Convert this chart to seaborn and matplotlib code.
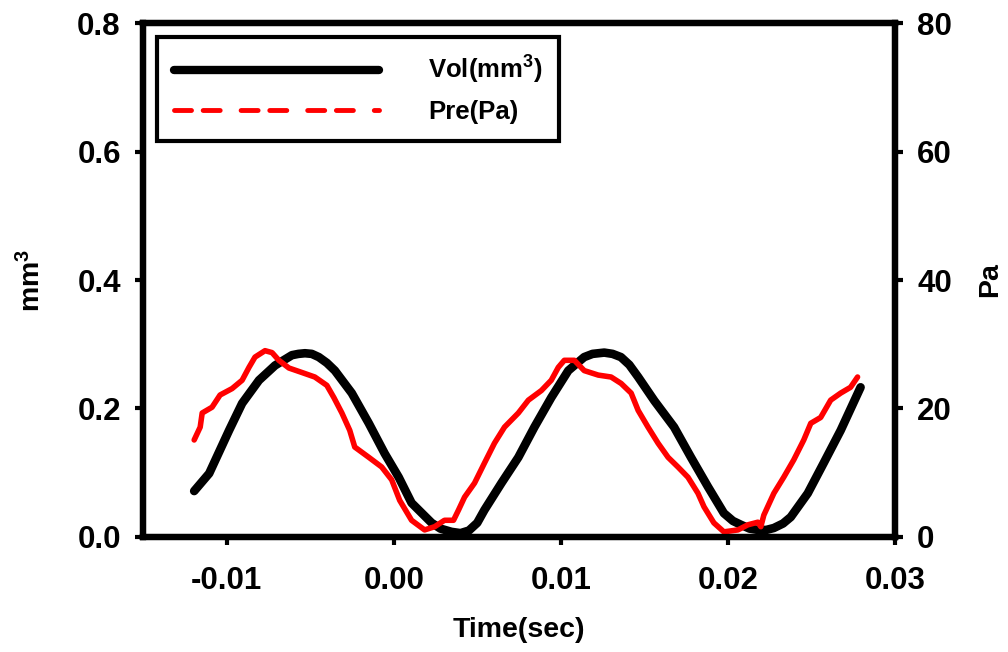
import matplotlib
matplotlib.use("Agg")
import matplotlib.pyplot as plt
from matplotlib.lines import Line2D
import pandas as pd
import seaborn as sns

# ---- data ----
time_vol = [-0.01194, -0.01104, -0.00985, -0.00907, -0.00806, -0.00710, -0.00609,
            -0.00570, -0.00531, -0.00490, -0.00448, -0.00400, -0.00352, -0.00251,
            -0.00149, -0.00054, 0.00030, 0.00107, 0.00227, 0.00280, 0.00346,
            0.00400, 0.00450, 0.00500, 0.00543, 0.00645, 0.00746, 0.00842,
            0.00943, 0.01045, 0.01140, 0.01190, 0.01260, 0.01310, 0.01360,
            0.01410, 0.01463, 0.01560, 0.01678, 0.01779, 0.01881, 0.01976,
            0.02030, 0.02078, 0.02130, 0.02179, 0.02230, 0.02275, 0.02330,
            0.02376, 0.02478, 0.02573, 0.02675, 0.02794]
vol_mm3 = [0.0715, 0.099, 0.166, 0.208, 0.244, 0.267, 0.283,
           0.285, 0.286, 0.285, 0.280, 0.271, 0.259, 0.224,
           0.177, 0.130, 0.093, 0.053, 0.022, 0.013, 0.008,
           0.006, 0.010, 0.022, 0.042, 0.084, 0.124, 0.171,
           0.217, 0.259, 0.280, 0.285, 0.287, 0.285, 0.280,
           0.268, 0.249, 0.212, 0.171, 0.124, 0.078, 0.037,
           0.025, 0.019, 0.013, 0.011, 0.011, 0.014, 0.021,
           0.031, 0.068, 0.115, 0.166, 0.233]

time_pre = [-0.01194, -0.01158, -0.01146, -0.01087, -0.01039, -0.00967, -0.00907,
            -0.00866, -0.00830, -0.00770, -0.00728, -0.00687, -0.00627, -0.00549,
            -0.00472, -0.00400, -0.00358, -0.00310, -0.00263, -0.00233, -0.00149,
            -0.00072, -0.00012, 0.00036, 0.00107, 0.00185, 0.00245, 0.00304,
            0.00358, 0.00388, 0.00424, 0.00484, 0.00543, 0.00603, 0.00663,
            0.00746, 0.00806, 0.00884, 0.00943, 0.00985, 0.01021, 0.01081,
            0.01140, 0.01224, 0.01301, 0.01361, 0.01421, 0.01463, 0.01522,
            0.01582, 0.01642, 0.01701, 0.01761, 0.01821, 0.01857, 0.01916,
            0.01976, 0.02060, 0.02120, 0.02179, 0.02197, 0.02215, 0.02275,
            0.02334, 0.02394, 0.02454, 0.02496, 0.02555, 0.02615, 0.02675,
            0.02734, 0.02776]
pre_pa = [15.1, 17.1, 19.3, 20.2, 22.1, 23.1, 24.4,
          26.4, 28.0, 29.0, 28.7, 27.5, 26.3, 25.6,
          24.9, 23.6, 21.7, 19.3, 16.6, 14.0, 12.4,
          10.9, 8.9, 5.7, 2.6, 1.1, 1.6, 2.6,
          2.6, 4.2, 6.2, 8.4, 11.5, 14.6, 17.1,
          19.3, 21.3, 22.8, 24.4, 26.4, 27.5, 27.5,
          25.9, 25.2, 24.9, 23.9, 22.4, 19.7, 17.1,
          14.6, 12.4, 10.9, 9.3, 6.8, 4.7, 2.2,
          0.8, 1.1, 1.9, 2.3, 1.6, 3.4, 6.8,
          9.3, 12.0, 15.1, 17.7, 18.6, 21.3, 22.4,
          23.3, 24.9]

x_ticks = [-0.01, 0.00, 0.01, 0.02, 0.03]
x_tick_labels = ["-0.01", "0.00", "0.01", "0.02", "0.03"]
vol_ticks = [0.0, 0.2, 0.4, 0.6, 0.8]
vol_tick_labels = ["0.0", "0.2", "0.4", "0.6", "0.8"]
pre_ticks = [0, 20, 40, 60, 80]
pre_tick_labels = ["0", "20", "40", "60", "80"]
series_labels = ["Vol(mm$^3$)", "Pre(Pa)"]

# ---- style ----
sns.set_theme(style="white")
plt.rcParams['font.family'] = ['Liberation Sans', 'DejaVu Sans']
plt.rcParams['font.weight'] = 'bold'
plt.rcParams['axes.labelweight'] = 'bold'
plt.rcParams['mathtext.fontset'] = 'custom'
plt.rcParams['mathtext.rm'] = 'Liberation Sans:bold'
plt.rcParams['mathtext.bf'] = 'Liberation Sans:bold'
plt.rcParams['mathtext.it'] = 'Liberation Sans:bold'
for k in ['text.color', 'axes.labelcolor', 'xtick.color', 'ytick.color', 'axes.edgecolor']:
    plt.rcParams[k] = 'black'

fig = plt.figure(figsize=(10.08, 6.52), dpi=100)
ax = fig.add_axes([0.1419, 0.1764, 0.746, 0.7883])
ax2 = ax.twinx()

df_vol = pd.DataFrame({"t": time_vol, "v": vol_mm3})
df_pre = pd.DataFrame({"t": time_pre, "p": pre_pa})

sns.lineplot(data=df_vol, x="t", y="v", ax=ax, color="black", lw=6.2,
             sort=False, estimator=None, solid_joinstyle="round",
             solid_capstyle="round")
sns.lineplot(data=df_pre, x="t", y="p", ax=ax2, color="red", lw=4,
             sort=False, estimator=None, solid_joinstyle="round",
             solid_capstyle="round")

ax.set_xlim(-0.015, 0.03)
ax.set_ylim(0, 0.8)
ax2.set_ylim(0, 80)

ax.set_xticks(x_ticks)
ax.set_xticklabels(x_tick_labels)
ax.set_yticks(vol_ticks)
ax.set_yticklabels(vol_tick_labels)
ax2.set_yticks(pre_ticks)
ax2.set_yticklabels(pre_tick_labels)

for a in (ax, ax2):
    for s in a.spines.values():
        s.set_linewidth(4.5)
        s.set_color("black")
    a.grid(False)

ax.tick_params(axis='x', direction='out', length=6, width=3, labelsize=22.5,
               pad=15, bottom=True, top=False)
ax.tick_params(axis='y', direction='out', length=6, width=3, labelsize=22.5,
               pad=10, left=True, right=False)
ax2.tick_params(axis='y', direction='out', length=6, width=3, labelsize=22.5,
                pad=10, right=True, left=False)

ax.set_xlabel("Time(sec)", fontsize=20.5, fontweight='bold', labelpad=15)
ax.set_ylabel("mm$^3$", fontsize=20.5, fontweight='bold', labelpad=22)
ax2.set_ylabel("Pa", fontsize=20.5, fontweight='bold', labelpad=18)

handles = [
    Line2D([], [], color="black", lw=6, solid_capstyle="round"),
    Line2D([], [], color="red", lw=3.5, dashes=(3.5, 2.4, 3.5, 4.3),
           dash_capstyle="round"),
]
leg = ax2.legend(handles, series_labels, loc='upper left',
                 bbox_to_anchor=(0.0186, 0.9728), borderaxespad=0,
                 fontsize=18.5, handlelength=8.0, handletextpad=1.9,
                 borderpad=0.65, labelspacing=0.55, frameon=True,
                 fancybox=False, edgecolor='black', framealpha=1)
leg.get_frame().set_linewidth(3)

fig.savefig("out.png", dpi=100)
